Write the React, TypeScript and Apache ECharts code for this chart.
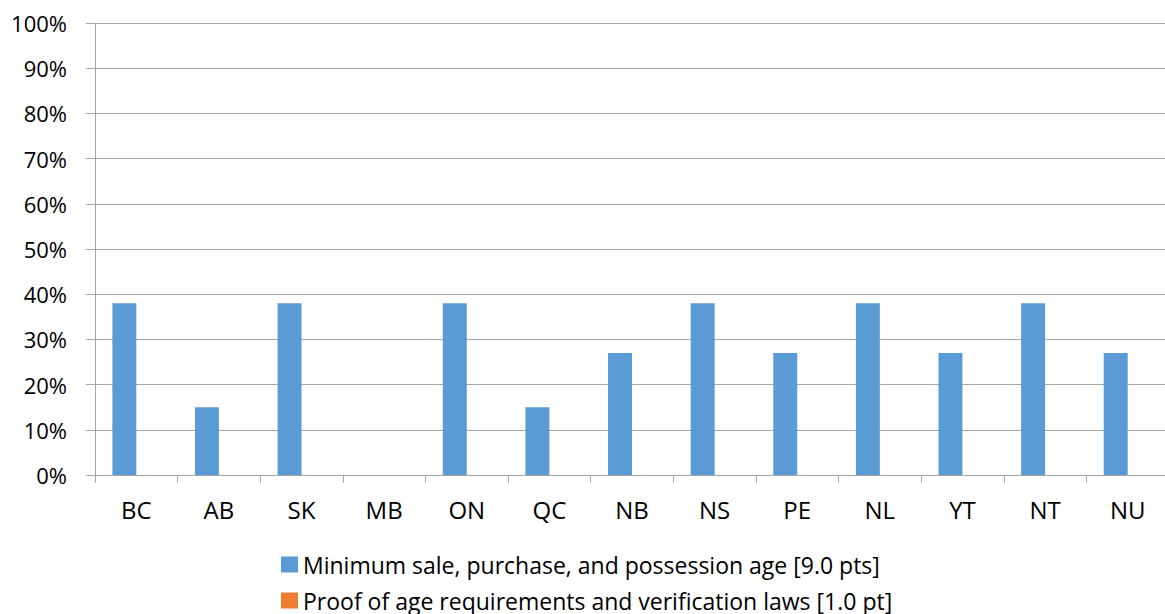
import React, { useEffect, useRef } from "react";
import * as echarts from "echarts";

// Provinces and territories along the category axis
const provinces = ["BC", "AB", "SK", "MB", "ON", "QC", "NB", "NS", "PE", "NL", "YT", "NT", "NU"];

// Share of points earned (percent) for each policy component
const minimumAgeScores = [38, 15, 38, 0, 38, 15, 27, 38, 27, 38, 27, 38, 27];
const proofOfAgeScores = [0, 0, 0, 0, 0, 0, 0, 0, 0, 0, 0, 0, 0];

// Y-axis range, in percent
const yMin = 0;
const yMax = 100;
const yStep = 10;

const seriesNames = [
  "Minimum sale, purchase, and possession age [9.0 pts]",
  "Proof of age requirements and verification laws [1.0 pt]",
];

const FONT = "'Open Sans', Lato, sans-serif";
const GRID_GRAY = "#a6a6a6";

export default function App() {
  const ref = useRef<HTMLDivElement>(null);

  useEffect(() => {
    document.body.style.margin = "0";
    document.body.style.overflow = "hidden";
    if (!ref.current) return;
    const chart = echarts.init(ref.current, null, { renderer: "svg" });
    chart.setOption({
      animation: false,
      backgroundColor: "#ffffff",
      textStyle: { fontFamily: FONT, color: "#000000" },
      grid: { left: 95, right: 11, top: 23, bottom: 139, containLabel: false },
      legend: {
        orient: "vertical",
        left: 281,
        top: 553,
        padding: 0,
        itemWidth: 17,
        itemHeight: 16,
        itemGap: 13,
        icon: "rect",
        textStyle: { fontFamily: FONT, fontSize: 23, color: "#000000", lineHeight: 23 },
        data: seriesNames,
      },
      xAxis: {
        type: "category",
        data: provinces,
        axisLine: { show: true, lineStyle: { color: GRID_GRAY, width: 1 } },
        axisTick: { show: true, alignWithLabel: false, length: 8, lineStyle: { color: GRID_GRAY } },
        axisLabel: { fontFamily: FONT, fontSize: 24, color: "#000000", margin: 22 },
        splitLine: { show: false },
      },
      yAxis: {
        type: "value",
        min: yMin,
        max: yMax,
        interval: yStep,
        axisLine: { show: true, lineStyle: { color: GRID_GRAY, width: 1 } },
        axisTick: { show: true, length: 9, lineStyle: { color: GRID_GRAY } },
        axisLabel: {
          fontFamily: FONT,
          fontSize: 22,
          color: "#000000",
          margin: 28,
          formatter: (v: number) => `${v}%`,
        },
        splitLine: { show: true, lineStyle: { color: GRID_GRAY, width: 1 } },
      },
      series: [
        {
          name: seriesNames[0],
          type: "bar",
          data: minimumAgeScores,
          itemStyle: { color: "#5b9bd5" },
          barGap: "0%",
          barCategoryGap: "42%",
        },
        {
          name: seriesNames[1],
          type: "bar",
          data: proofOfAgeScores,
          itemStyle: { color: "#ed7d31" },
          barGap: "0%",
          barCategoryGap: "42%",
        },
      ],
    });
    return () => chart.dispose();
  }, []);

  return (
    <div style={{ width: 1165, height: 614, overflow: "hidden", position: "relative" }}>
      <div ref={ref} style={{ width: 1180, height: 614 }} />
    </div>
  );
}
